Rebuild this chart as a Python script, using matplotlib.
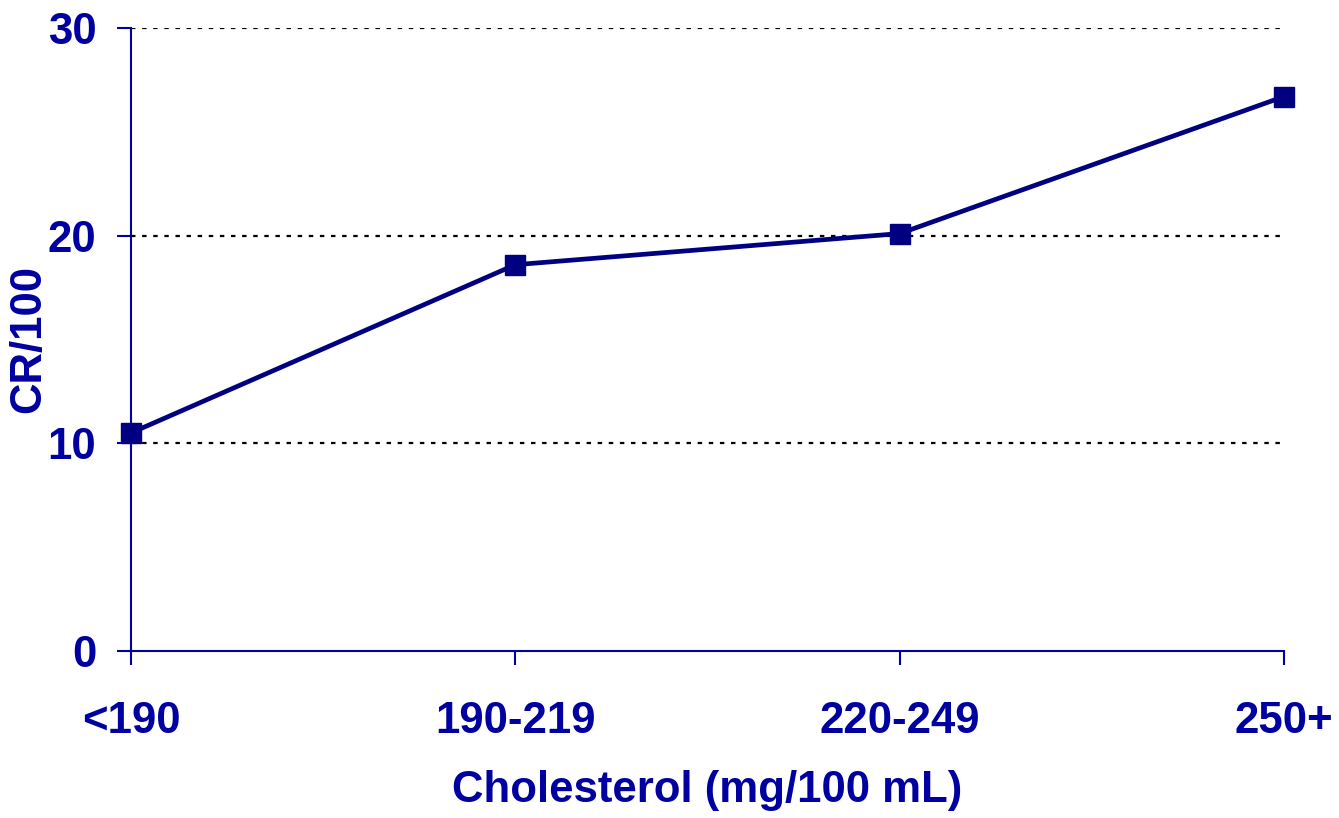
import numpy as np
import matplotlib.pyplot as plt

categories = ['<190', '190-219', '220-249', '250+']
cr_values = [10.5, 18.6, 20.1, 26.7]
y_ticks = [0, 10, 20, 30]

navy = '#000080'
axis_blue = '#0000A0'

plt.rcParams['font.family'] = ['Liberation Sans', 'DejaVu Sans']
plt.rcParams['font.weight'] = 'bold'

fig = plt.figure(figsize=(13.39, 8.18), dpi=100)
ax = fig.add_axes([0.0978, 0.2042, 0.959 - 0.0978, 0.9658 - 0.2042])

x = np.arange(len(categories))
ax.plot(x, cr_values, color=navy, linewidth=3.4, marker='s', markersize=14.5,
        zorder=3, clip_on=False)

# dotted gridlines (no line at 0)
for v in y_ticks[1:]:
    ax.axhline(v, color='black', linestyle=(0, (2.0, 3.0)), linewidth=1.6, zorder=1)

ax.set_xlim(0, len(categories) - 1)
ax.set_ylim(0, 30)
ax.set_xticks(x)
ax.set_xticklabels(categories)
ax.set_yticks(y_ticks)

for s in ['top', 'right']:
    ax.spines[s].set_visible(False)
for s in ['left', 'bottom']:
    ax.spines[s].set_color(axis_blue)
    ax.spines[s].set_linewidth(1.5)

ax.tick_params(axis='y', direction='out', length=10, width=1.5, color=axis_blue,
               labelsize=31.5, labelcolor=axis_blue, pad=15)
ax.tick_params(axis='x', direction='out', length=10, width=1.5, color=axis_blue,
               labelsize=31.5, labelcolor=axis_blue, pad=26)

ax.set_xlabel('Cholesterol (mg/100 mL)', fontsize=31.5, color=axis_blue,
              fontweight='bold', labelpad=20)
ax.set_ylabel('CR/100', fontsize=31.5, color=axis_blue, fontweight='bold')
ax.yaxis.set_label_coords(-0.071, 0.5)

fig.savefig('out.png', dpi=100)
